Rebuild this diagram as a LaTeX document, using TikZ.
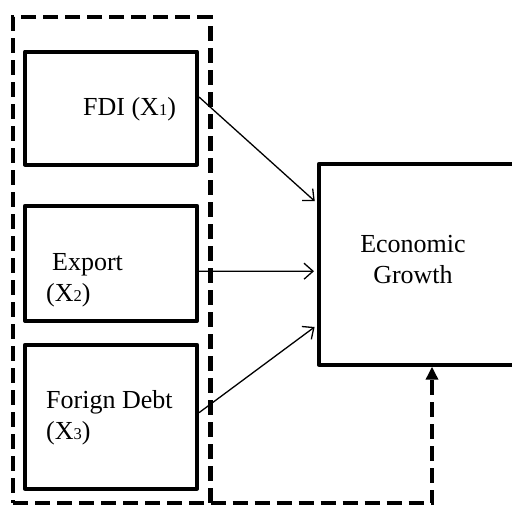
\documentclass[tikz,border=0pt]{standalone}
\usepackage{fontspec}
\setmainfont{Liberation Serif}
\usetikzlibrary{arrows.meta}

\newcommand{\lowdigit}[1]{{\fontsize{16.5}{16.5}\selectfont #1}}

\begin{document}
\begin{tikzpicture}[x=1pt,y=-1pt]
\tikzstyle{factor}=[draw,line width=4pt,line join=round,minimum width=172pt,inner sep=0pt]
\tikzstyle{group}=[draw,line width=4.5pt,dash pattern=on 15pt off 7pt]
\tikzstyle{lbl}=[font=\fontsize{26}{31}\selectfont,inner sep=0pt,align=left]
\tikzstyle{link}=[line width=1.3pt,-{Straight Barb[length=9pt,width=16pt]},shorten >=3pt]
\useasboundingbox (0,0) rectangle (512,506);

% dashed frame round the three factors
\node[group,minimum width=197.5pt,minimum height=486pt,inner sep=0pt,outer sep=0pt](grp) at (111.75,260) {};

\node[factor,minimum height=113pt](fdi) at (111,108) {};
\node[factor,minimum height=115pt](exp) at (111,263.3) {};
\node[factor,minimum height=144pt](debt) at (111,416.7) {};
\node[factor,minimum width=202pt,minimum height=201pt](eg) at (420,264.2) {};

% labels (base = last line)
\node[lbl,anchor=base west](fdilbl) at (83,115) {FDI (X\lowdigit{1})};
\node[lbl,anchor=base west](explbl) at (46,301) {\hspace{6pt}Export\\(X\lowdigit{2})};
\node[lbl,anchor=base west](debtlbl) at (46,439) {Forign Debt\\(X\lowdigit{3})};
\node[lbl,align=center,anchor=base](eglbl) at (413,283) {Economic\\Growth};

\draw[link] ([yshift=11pt]fdi.east) -- ([yshift=61pt]eg.west);
\draw[link] ([yshift=-8pt]exp.east) -- ([yshift=-7pt]eg.west);
\draw[link] ([yshift=4pt]debt.east) -- ([yshift=-61pt]eg.west);

\draw[group,-{Triangle[width=12pt,length=13pt]}] (grp.south east) -| ([xshift=12pt]eg.south);
\end{tikzpicture}
\end{document}
